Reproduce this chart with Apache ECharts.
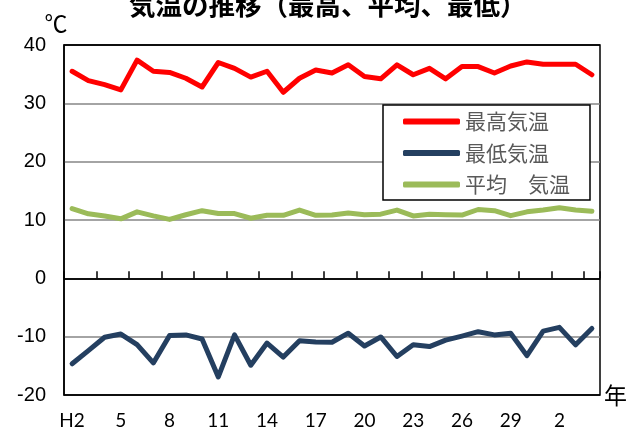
<!DOCTYPE html>
<html><head><meta charset="utf-8">
<script src="https://cdn.jsdelivr.net/npm/echarts@6/dist/echarts.min.js"></script>
<style>html,body{margin:0;padding:0;background:#fff}#c{width:630px;height:430px}</style>
</head><body><div id="c"></div>
<script>
const years = ['H2','3','4','5','6','7','8','9','10','11','12','13','14','15','16','17','18','19','20','21','22','23','24','25','26','27','28','29','30','R1','2','3','4'];
const maxTemp = [35.5,33.9,33.2,32.3,37.4,35.5,35.3,34.3,32.8,37.0,36.0,34.5,35.5,31.9,34.3,35.7,35.2,36.6,34.6,34.2,36.6,34.9,36.0,34.2,36.3,36.3,35.2,36.4,37.1,36.7,36.7,36.7,34.9];
const minTemp = [-14.65,-12.4,-10.1,-9.55,-11.35,-14.5,-9.8,-9.7,-10.4,-16.9,-9.7,-14.9,-11.1,-13.5,-10.7,-10.9,-10.95,-9.4,-11.6,-10.05,-13.4,-11.4,-11.7,-10.6,-9.9,-9.15,-9.7,-9.4,-13.25,-9.05,-8.4,-11.4,-8.6];
const avgTemp = [11.95,11.06,10.7,10.2,11.4,10.7,10.1,10.9,11.6,11.1,11.1,10.3,10.8,10.8,11.7,10.8,10.85,11.2,10.9,11.0,11.7,10.7,11.0,10.9,10.85,11.8,11.6,10.75,11.4,11.7,12.1,11.7,11.5];
const seriesNames = ['最高気温','最低気温','平均　気温'];
const yMin = -20, yMax = 40, yStep = 10;

const chart = echarts.init(document.getElementById('c'), null, {renderer:'canvas'});
const jp = 'Noto Sans CJK JP';
chart.setOption({
  animation: false,
  backgroundColor: '#fff',
  title: {
    text: '気温の推移（最高、平均、最低）',
    left: 129, top: -8, padding: 0,
    textStyle: {fontSize: 26.5, fontWeight: 'bold', color: '#000', fontFamily: jp}
  },
  legend: {
    data: seriesNames,
    orient: 'vertical',
    left: 383, top: 105,
    padding: [6, 20, 5, 20],
    itemGap: 10.5,
    itemWidth: 57, itemHeight: 6,
    icon: 'roundRect',
    backgroundColor: '#fff',
    borderColor: '#000', borderWidth: 1.5,
    textStyle: {fontSize: 21, lineHeight: 21, color: '#595959', fontFamily: jp}
  },
  grid: {
    left: 64, right: 26, top: 45, bottom: 29,
    show: true, borderColor: '#000', borderWidth: 1.5, backgroundColor: 'transparent'
  },
  xAxis: [
    {
      type: 'category', data: years, boundaryGap: true, position: 'bottom',
      axisLine: {onZero: true, lineStyle: {color: '#000', width: 1.5}},
      axisTick: {show: true, inside: true, length: 7, lineStyle: {color: '#000', width: 1.5}},
      axisLabel: {show: false},
      splitLine: {show: false}
    },
    {
      type: 'category', data: years, boundaryGap: true, position: 'bottom',
      axisLine: {show: false, onZero: false},
      axisTick: {show: false},
      axisLabel: {interval: 2, fontSize: 19, color: '#000', margin: 16, fontFamily: 'Lato'},
      name: '年', nameLocation: 'end', nameGap: 4,
      nameTextStyle: {fontSize: 23, color: '#000', fontFamily: jp},
      splitLine: {show: false}
    }
  ],
  yAxis: {
    type: 'value', min: yMin, max: yMax, interval: yStep,
    name: '℃', nameLocation: 'end', nameGap: 3,
    nameTextStyle: {fontSize: 23, color: '#000', fontFamily: jp, padding: [0, 16, 0, 0]},
    axisLine: {show: true, lineStyle: {color: '#000', width: 1.5}},
    axisTick: {show: false},
    axisLabel: {fontSize: 20, color: '#000', margin: 18, fontFamily: 'Liberation Sans'},
    splitLine: {show: true, lineStyle: {color: ['#000','#868686','#000','#868686','#868686','#868686','#000'], width: 1.5}}
  },
  series: [
    {name: seriesNames[0], type: 'line', data: maxTemp, symbol: 'none', color: '#FF0000',
     lineStyle: {width: 5, color: '#FF0000', join: 'round', cap: 'round'}},
    {name: seriesNames[1], type: 'line', data: minTemp, symbol: 'none', color: '#243F60',
     lineStyle: {width: 5, color: '#243F60', join: 'round', cap: 'round'}},
    {name: seriesNames[2], type: 'line', data: avgTemp, symbol: 'none', color: '#9BBB59',
     lineStyle: {width: 5, color: '#9BBB59', join: 'round', cap: 'round'}}
  ]
});
</script>
</body></html>
